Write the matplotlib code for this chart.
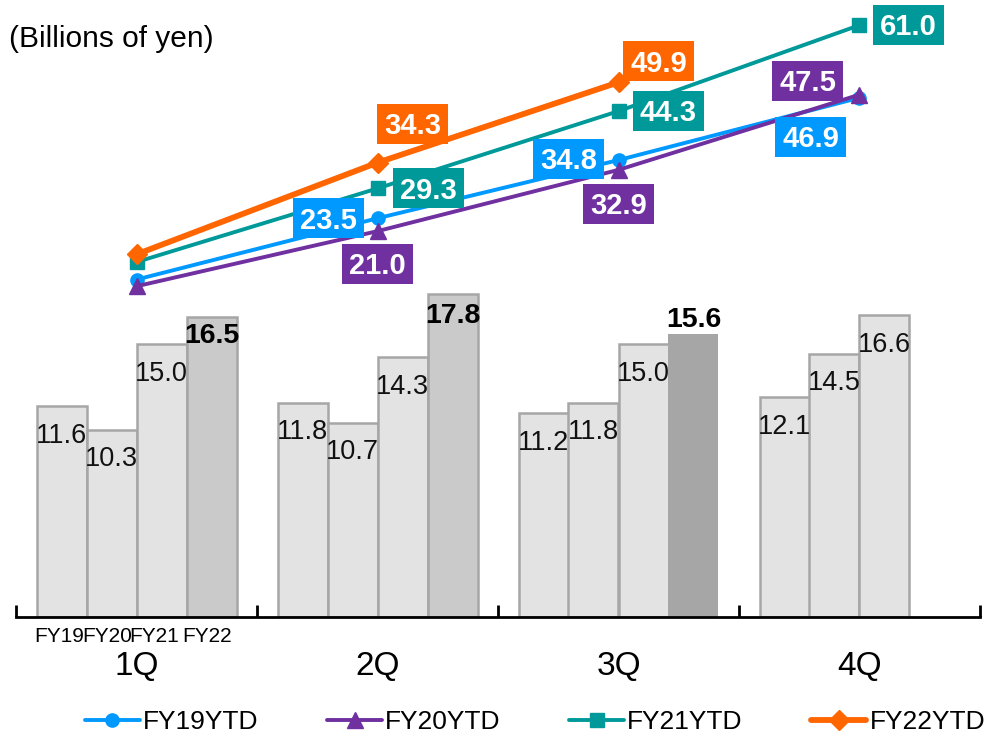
import matplotlib
matplotlib.use("Agg")
import matplotlib.pyplot as plt
from matplotlib.patches import Rectangle
from matplotlib.transforms import ScaledTranslation
import numpy as np

plt.rcParams['font.family'] = ['Liberation Sans', 'DejaVu Sans']

quarters = ["1Q", "2Q", "3Q", "4Q"]
fiscal_years = ["FY19", "FY20", "FY21", "FY22"]

# Quarterly results (billions of yen)
fy19_q = [11.6, 11.8, 11.2, 12.1]
fy20_q = [10.3, 10.7, 11.8, 14.5]
fy21_q = [15.0, 14.3, 15.0, 16.6]
fy22_q = [16.5, 17.8, 15.6]

# Year-to-date cumulative totals
ytd_names = ["FY19YTD", "FY20YTD", "FY21YTD", "FY22YTD"]
fy19_ytd = [11.6, 23.5, 34.8, 46.9]
fy20_ytd = [10.3, 21.0, 32.9, 47.5]
fy21_ytd = [15.0, 29.3, 44.3, 61.0]
fy22_ytd = [16.5, 34.3, 49.9]

# ---- styling ----
DPI = 100
fig = plt.figure(figsize=(9.87, 7.37), dpi=DPI)
ax = fig.add_axes([16 / 987, 120 / 737, 964 / 987, 607 / 737])
ax2 = ax.twinx()
ax2.set_position(ax.get_position())

bar_w = 50 / 241
bar_face = ["#e3e3e3", "#e3e3e3", "#e3e3e3"]
bar_edge = "#a6a6a6"
fy22_face = ["#c9cac9", "#c9cac9", "#a6a6a6"]
fy22_lw = [1.8, 1.8, 0.0]
fy22_label_dy = [26, 29, -7]   # baseline offset (px, downward) from bar top

quarterly = [fy19_q, fy20_q, fy21_q]
x = np.arange(len(quarters))
offsets = (np.arange(4) - 1.5) * bar_w

for k, vals in enumerate(quarterly):
    xs = x[:len(vals)] + offsets[k]
    ax.bar(xs, vals, width=bar_w, color=bar_face[k], edgecolor=bar_edge,
           linewidth=1.8, zorder=2)
    for xi, v in zip(xs, vals):
        ax.annotate(f"{v:.1f}", (xi, v), xytext=(0, -36.5),
                    textcoords="offset pixels", ha="center", va="baseline",
                    fontsize=19.5, color="#111111", zorder=4)

xs22 = x[:len(fy22_q)] + offsets[3]
for xi, v, fc, lw, dy in zip(xs22, fy22_q, fy22_face, fy22_lw, fy22_label_dy):
    ax.bar(xi, v, width=bar_w, color=fc, edgecolor=bar_edge if lw else fc,
           linewidth=lw, zorder=2)
    ax.annotate(f"{v:.1f}", (xi, v), xytext=(0, -dy),
                textcoords="offset pixels", ha="center", va="baseline",
                fontsize=20.5, fontweight="bold", color="black", zorder=4)

ax.set_xlim(-0.5, 3.5)
ax.set_ylim(0, 607 / 18.17)
ax.set_xticks(np.arange(-0.5, 3.6, 1.0))
ax.tick_params(axis="x", direction="in", length=9, width=2, color="black",
               labelbottom=False)
ax.set_yticks([])
for s in ["top", "left", "right"]:
    ax.spines[s].set_visible(False)
ax.spines["bottom"].set_linewidth(2)
ax.spines["bottom"].set_color("black")
ax.set_facecolor("none")

# category labels under the axis
for xi, q in zip(x, quarters):
    ax.annotate(q, (xi, 0), xytext=(0, -58), textcoords="offset pixels",
                ha="center", va="baseline", fontsize=24, annotation_clip=False)
fy_dx = [-2, -4, -7, -4]
for k, fy in enumerate(fiscal_years):
    ax.annotate(fy, (x[0] + offsets[k], 0), xytext=(fy_dx[k], -25),
                textcoords="offset pixels", ha="center", va="baseline",
                fontsize=15, annotation_clip=False)

# ---- cumulative lines ----
ytd_series = [fy19_ytd, fy20_ytd, fy21_ytd, fy22_ytd]
ytd_colors = ["#0099ff", "#7030a0", "#009999", "#ff6600"]
ytd_markers = ["o", "^", "s", "D"]
ytd_msize = [9.5, 12, 10, 10]
ytd_lw = [2.8, 2.8, 2.8, 4.2]
# label box centre offsets from each point (px; right, down)
ytd_label_off = [
    [None, (-49, 0), (-50, -1), (-49, 39)],
    [None, (0, 33), (0, 34), (-52, -14)],
    [None, (51, 0), (50, 0), (49, 0)],
    [None, (35, -39), (40, -21)],
]
box_w, box_h = 71, 40

handles = []
for vals, c, m, ms, lw, offs, name in zip(ytd_series, ytd_colors, ytd_markers,
                                          ytd_msize, ytd_lw, ytd_label_off,
                                          ytd_names):
    ln, = ax2.plot(x[:len(vals)], vals, color=c, marker=m, markersize=ms,
                   linewidth=lw, markeredgecolor=c, zorder=3,
                   solid_capstyle="round", label=name)
    handles.append(ln)
    for xi, v, off in zip(x, vals, offs):
        if off is None:
            continue
        dx, dy = off
        tr = ScaledTranslation(xi, v, ax2.transData)
        rect = Rectangle((dx - box_w / 2, -dy - box_h / 2), box_w, box_h,
                         transform=tr, facecolor=c, edgecolor="none",
                         zorder=5, clip_on=False)
        ax2.add_artist(rect)
        ax2.text(dx, -dy - 10.3, f"{v:.1f}", transform=tr, ha="center",
                 va="baseline", fontsize=21, fontweight="bold",
                 color="white", zorder=6, clip_on=False)

ax2.set_ylim((339.3 - 617) / 5.15, (339.3 - 10) / 5.15)
ax2.set_yticks([])
for s in ax2.spines.values():
    s.set_visible(False)

fig.text(9 / 987, 1 - 47 / 737, "(Billions of yen)", fontsize=21.5,
         ha="left", va="baseline")

fig.legend(handles=handles, loc="center", bbox_to_anchor=(535 / 987, 15 / 737),
           ncol=4, frameon=False, fontsize=19, handlelength=2.08,
           handletextpad=0.12, columnspacing=2.6, borderaxespad=0,
           borderpad=0)

fig.savefig("out.png", dpi=DPI)
